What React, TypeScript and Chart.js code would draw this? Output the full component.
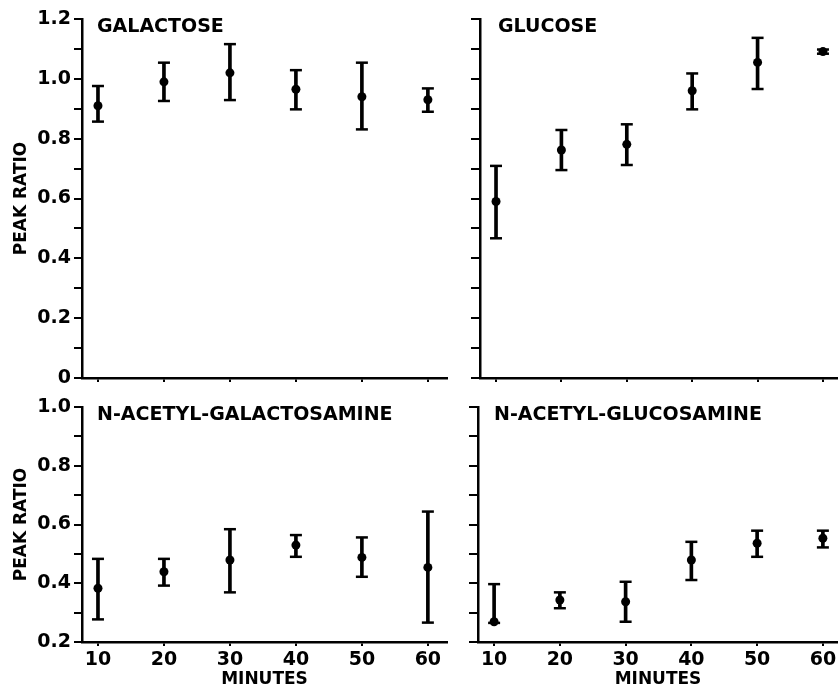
import React, { useEffect, useRef } from 'react';
import { Chart, registerables } from 'chart.js';

Chart.register(...registerables);

// ---- data ----
const minutes = [10, 20, 30, 40, 50, 60];
const xTickLabels = ['10', '20', '30', '40', '50', '60'];

const galactoseMean = [0.91, 0.99, 1.02, 0.965, 0.94, 0.93];
const galactoseLow = [0.857, 0.926, 0.929, 0.898, 0.831, 0.89];
const galactoseHigh = [0.976, 1.054, 1.116, 1.029, 1.054, 0.968];

const glucoseMean = [0.59, 0.762, 0.781, 0.96, 1.055, 1.091];
const glucoseLow = [0.467, 0.695, 0.712, 0.898, 0.966, 1.084];
const glucoseHigh = [0.709, 0.829, 0.848, 1.018, 1.137, 1.098];

const galNAcMean = [0.383, 0.439, 0.479, 0.53, 0.488, 0.454];
const galNAcLow = [0.277, 0.392, 0.369, 0.49, 0.422, 0.266];
const galNAcHigh = [0.483, 0.483, 0.584, 0.564, 0.556, 0.644];

const glcNAcMean = [0.269, 0.343, 0.337, 0.479, 0.536, 0.553];
const glcNAcLow = [0.265, 0.315, 0.269, 0.411, 0.49, 0.522];
const glcNAcHigh = [0.397, 0.369, 0.405, 0.541, 0.579, 0.579];

const topYTicks = [0, 0.1, 0.2, 0.3, 0.4, 0.5, 0.6, 0.7, 0.8, 0.9, 1.0, 1.1, 1.2];
const topYLabels = ['0', '', '0.2', '', '0.4', '', '0.6', '', '0.8', '', '1.0', '', '1.2'];
const bottomYTicks = [0.2, 0.3, 0.4, 0.5, 0.6, 0.7, 0.8, 0.9, 1.0];
const bottomYLabels = ['0.2', '', '0.4', '', '0.6', '', '0.8', '', '1.0'];

const FONT = '"DejaVu Sans", "Liberation Sans", sans-serif';

type PanelProps = {
  label: string;
  mean: number[];
  low: number[];
  high: number[];
  yTicks: number[];
  yLabels: string[] | null;
  yMin: number;
  yMax: number;
  xMin: number;
  xMax: number;
  showXLabels: boolean;
  box: { left: number; top: number; width: number; height: number };
  pad: { left: number; top: number; right: number; bottom: number };
  yWidth: number;
  xHeight: number;
  yTickLen: number;
  labelDx: number;
  labelDy: number;
};

function Panel(p: PanelProps) {
  const ref = useRef<HTMLCanvasElement>(null);
  useEffect(() => {
    const labelPlugin = {
      id: 'panelLabel',
      afterDraw(chart: any) {
        const { ctx, chartArea } = chart;
        ctx.save();
        ctx.font = `bold 19px ${FONT}`;
        ctx.fillStyle = '#000';
        ctx.textBaseline = 'middle';
        ctx.textAlign = 'left';
        ctx.fillText(p.label, chartArea.left + p.labelDx, chartArea.top + p.labelDy);
        ctx.restore();
      },
    };
    const chart = new Chart(ref.current as HTMLCanvasElement, {
      type: 'scatter',
      data: {
        datasets: [
          {
            type: 'scatter',
            data: minutes.map((m, i) => ({ x: m, y: p.mean[i] })),
            pointRadius: 4.5,
            pointBackgroundColor: '#000',
            pointBorderColor: '#000',
            pointBorderWidth: 0,
            order: 0,
          } as any,
          {
            type: 'scatter',
            data: [
              ...minutes.map((m, i) => ({ x: m, y: p.low[i] })),
              ...minutes.map((m, i) => ({ x: m, y: p.high[i] })),
            ],
            pointStyle: 'line',
            pointRadius: 6,
            pointBorderColor: '#000',
            pointBorderWidth: 2.5,
            order: 1,
          } as any,
          {
            type: 'bar',
            data: minutes.map((m, i) => ({ x: m, y: [p.low[i], p.high[i]] })),
            backgroundColor: '#000',
            borderWidth: 0,
            barThickness: 3,
            order: 2,
          } as any,
        ],
      },
      options: {
        animation: false,
        responsive: false,
        events: [],
        layout: { padding: p.pad, autoPadding: false },
        plugins: {
          legend: { display: false },
          tooltip: { enabled: false },
        },
        scales: {
          x: {
            type: 'linear',
            min: p.xMin,
            max: p.xMax,
            offset: false,
            afterBuildTicks: (s: any) => {
              s.ticks = minutes.map((v) => ({ value: v }));
            },
            afterFit: (s: any) => {
              s.height = p.xHeight;
              s.paddingLeft = 0;
              s.paddingRight = 0;
            },
            grid: {
              offset: false,
              drawOnChartArea: false,
              drawTicks: true,
              tickLength: 4,
              color: '#000',
              lineWidth: 2,
            },
            border: { display: true, color: '#000', width: 2.5 },
            ticks: {
              autoSkip: false,
              maxRotation: 0,
              minRotation: 0,
              padding: 3,
              color: '#000',
              font: { family: FONT, size: 19, weight: 'bold' },
              callback: (_v: any, i: number) => (p.showXLabels ? xTickLabels[i] : ''),
            },
            title: {
              display: p.showXLabels,
              text: 'MINUTES',
              color: '#000',
              font: { family: FONT, size: 17, weight: 'bold', lineHeight: 0.8 },
              padding: 0,
            },
          },
          y: {
            type: 'linear',
            min: p.yMin,
            max: p.yMax,
            afterBuildTicks: (s: any) => {
              s.ticks = p.yTicks.map((v) => ({ value: v }));
            },
            afterFit: (s: any) => {
              s.width = p.yWidth;
              s.paddingTop = 0;
              s.paddingBottom = 0;
            },
            grid: {
              drawOnChartArea: false,
              drawTicks: true,
              tickLength: p.yTickLen,
              color: '#000',
              lineWidth: 2,
            },
            border: { display: true, color: '#000', width: 2.5 },
            ticks: {
              autoSkip: false,
              padding: 3,
              color: '#000',
              font: { family: FONT, size: 19, weight: 'bold' },
              callback: (_v: any, i: number) => (p.yLabels ? p.yLabels[i] : ''),
            },
            title: {
              display: !!p.yLabels,
              text: 'PEAK RATIO',
              color: '#000',
              font: { family: FONT, size: 17, weight: 'bold', lineHeight: 1.2 },
              padding: { top: 11, bottom: 0 },
            },
          },
        },
      } as any,
      plugins: [labelPlugin],
    });
    return () => chart.destroy();
  }, []);
  return (
    <div
      style={{
        position: 'absolute',
        left: p.box.left,
        top: p.box.top,
        width: p.box.width,
        height: p.box.height,
      }}
    >
      <canvas
        ref={ref}
        width={p.box.width}
        height={p.box.height}
        style={{ display: 'block', width: p.box.width, height: p.box.height }}
      />
    </div>
  );
}

export default function App() {
  return (
    <div
      style={{
        position: 'absolute',
        left: 0,
        top: 0,
        width: 838,
        height: 686,
        background: '#fff',
        overflow: 'hidden',
      }}
    >
      <Panel
        label="GALACTOSE"
        mean={galactoseMean}
        low={galactoseLow}
        high={galactoseHigh}
        yTicks={topYTicks}
        yLabels={topYLabels}
        yMin={0}
        yMax={1.2}
        xMin={7.58}
        xMax={62.9}
        showXLabels={false}
        box={{ left: 0, top: 0, width: 460, height: 400 }}
        pad={{ left: 0, top: 19, right: 13, bottom: 0 }}
        yWidth={82}
        xHeight={22}
        yTickLen={8}
        labelDx={15}
        labelDy={8}
      />
      <Panel
        label="GLUCOSE"
        mean={glucoseMean}
        low={glucoseLow}
        high={glucoseHigh}
        yTicks={topYTicks}
        yLabels={null}
        yMin={0}
        yMax={1.2}
        xMin={7.55}
        xMax={62.3}
        showXLabels={false}
        box={{ left: 460, top: 0, width: 378, height: 400 }}
        pad={{ left: 0, top: 19, right: 0, bottom: 0 }}
        yWidth={20}
        xHeight={22}
        yTickLen={9}
        labelDx={18}
        labelDy={8}
      />
      <Panel
        label="N-ACETYL-GALACTOSAMINE"
        mean={galNAcMean}
        low={galNAcLow}
        high={galNAcHigh}
        yTicks={bottomYTicks}
        yLabels={bottomYLabels}
        yMin={0.2}
        yMax={1.0}
        xMin={7.58}
        xMax={62.9}
        showXLabels={true}
        box={{ left: 0, top: 390, width: 460, height: 296 }}
        pad={{ left: 0, top: 17, right: 13, bottom: 0 }}
        yWidth={82}
        xHeight={44}
        yTickLen={8}
        labelDx={15}
        labelDy={8}
      />
      <Panel
        label="N-ACETYL-GLUCOSAMINE"
        mean={glcNAcMean}
        low={glcNAcLow}
        high={glcNAcHigh}
        yTicks={bottomYTicks}
        yLabels={null}
        yMin={0.2}
        yMax={1.0}
        xMin={7.55}
        xMax={62.3}
        showXLabels={true}
        box={{ left: 460, top: 390, width: 378, height: 296 }}
        pad={{ left: 0, top: 17, right: 0, bottom: 0 }}
        yWidth={18}
        xHeight={44}
        yTickLen={9}
        labelDx={16}
        labelDy={8}
      />
    </div>
  );
}
